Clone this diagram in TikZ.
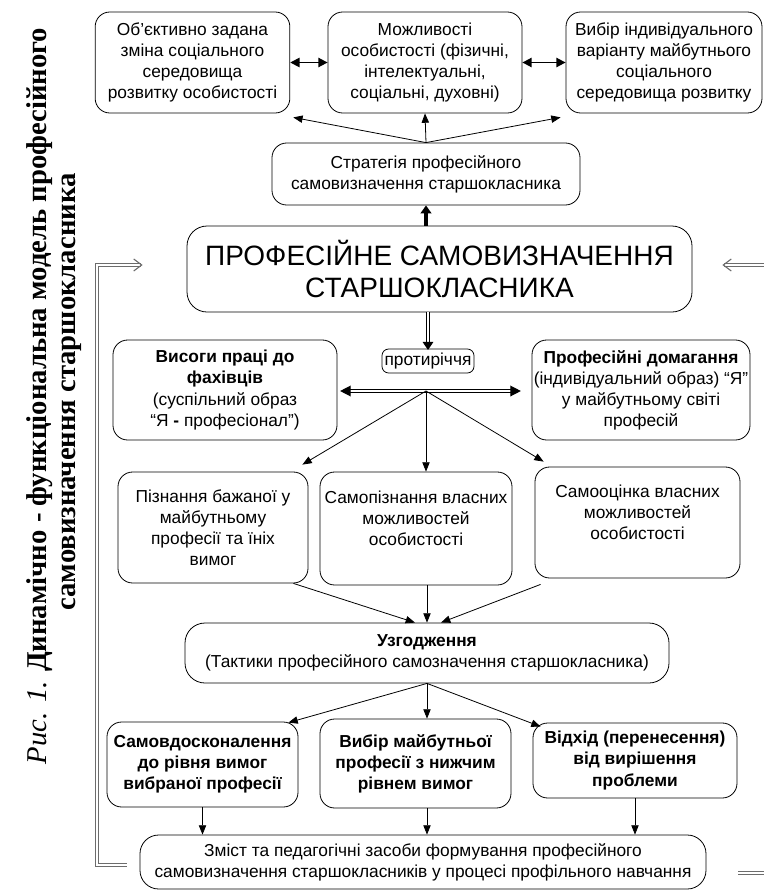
\documentclass[tikz,border=0pt]{standalone}
\usepackage{fontspec}
\setmainfont{Liberation Sans}
\newfontfamily\capfont{Liberation Serif}
\usepackage{tikz}
\usetikzlibrary{arrows.meta,calc}

\begin{document}
\begin{tikzpicture}[x=0.75pt,y=-0.75pt,
		box/.style={rectangle,draw,rounded corners=11pt,align=center,inner sep=1pt,line width=0.6pt,font=\fontsize{13}{15.8}\selectfont},
		arr/.style={line width=0.6pt,-{Triangle[length=7pt,width=5.5pt]}},
		twoway/.style={line width=1.3pt,{Triangle[length=7pt,width=7pt]}-{Triangle[length=7pt,width=7pt]}},
		heavy/.style={line width=3pt,-{Triangle[length=6pt,width=8pt]}},
		hollow/.style={draw=black,double=white,double distance=2pt,line width=0.7pt,-{Triangle[length=6pt,width=8pt]}},
		hollowtwo/.style={draw=black,double=white,double distance=1.6pt,line width=1pt,{Triangle[length=8pt,width=8pt]}-{Triangle[length=8pt,width=8pt]}},
		fb/.style={draw=gray!85!black,double=white,double distance=1.1pt,line width=0.8pt},
		fbtip/.style={-{Straight Barb[length=6pt,width=9pt]}},
		captext/.style={font=\capfont\fontsize{21.5}{25}\selectfont,inner sep=0pt}]
		
			\useasboundingbox (0,0) rectangle (764,893);
		
			\node[captext,rotate=90,anchor=base] (cap1) at (46,396) {\textit{Рис. 1.} \textbf{Динамічно - функціональна модель професійного}};
			\node[captext,rotate=90,anchor=base] (cap2) at (75,392) {\textbf{самовизначення старшокласника}};
		
			\node[box,minimum width=146pt,minimum height=75.75pt] (obj) at (192.5,62.5) {Об’єктивно задана\\зміна соціального\\середовища\\розвитку особистості};
			\node[box,minimum width=145.5pt,minimum height=75.75pt] (abil) at (425,62.5) {Можливості\\особистості (фізичні,\\інтелектуальні,\\соціальні, духовні)};
			\node[box,minimum width=147pt,minimum height=75.75pt] (choice) at (664,62.5) {Вибір індивідуального\\варіанту майбутнього\\соціального\\середовища розвитку};
			
			\node[box,minimum width=231pt,minimum height=46.5pt] (strat) at (426,174) {Стратегія професійного\\самовизначення старшокласника};
			
			\node[box,rounded corners=15pt,minimum width=378.75pt,minimum height=64.5pt,font=\fontsize{21}{24.5}\selectfont] (main) at (439.5,269) {ПРОФЕСІЙНЕ САМОВИЗНАЧЕННЯ\\СТАРШОКЛАСНИКА};
			
			\node[box,rounded corners=5pt,minimum width=69pt,minimum height=18pt] (contr) at (428,361) {протиріччя};
			\node[box,minimum width=168pt,minimum height=75pt] (demand) at (225,390) {\textbf{Висоги праці до}\\\textbf{фахівців}\\(суспільний образ\\“Я \textbf{-} професіонал”)};
			\node[box,minimum width=163.5pt,minimum height=75pt] (claim) at (641,390) {\textbf{Професійні домагання}\\(індивідуальний образ) “Я”\\у майбутньому світі\\професій};
			\coordinate (fork) at (426,391);
			
			\node[box,minimum width=142.5pt,minimum height=83.25pt] (know) at (213,527.5) {Пізнання бажаної у\\майбутньому\\професії та їніх\\вимог};
			\node[box,minimum width=144pt,minimum height=84.75pt] (selfk) at (416,528.5) {Самопізнання власних\\можливостей\\особистості\\\mbox{}};
			\node[box,minimum width=153.75pt,minimum height=83.25pt] (selfe) at (637.5,522.5) {Самооцінка власних\\можливостей\\особистості\\\mbox{}};
			
			\node[box,rounded corners=15pt,minimum width=363pt,minimum height=45pt] (agree) at (427,653) {\textbf{Узгодження}\\(Тактики професійного самозначення старшокласника)};
			
			\node[box,minimum width=143.25pt,minimum height=63.75pt,font=\bfseries\fontsize{13}{15.8}\selectfont] (impr) at (202.5,764.5) {Самовдосконалення\\до рівня вимог\\вибраної професії};
			\node[box,minimum width=143.25pt,minimum height=66.75pt,font=\bfseries\fontsize{13}{15.8}\selectfont] (lower) at (415.5,763.5) {Вибір майбутньої\\професії з нижчим\\рівнем вимог};
			\node[box,minimum width=153pt,minimum height=56.25pt,font=\bfseries\fontsize{13}{15.8}\selectfont] (avoid) at (635,760.5) {Відхід (перенесення)\\від вирішення\\проблеми};
			
			\node[box,rounded corners=14pt,minimum width=424.5pt,minimum height=40.5pt] (bottom) at (423,862) {Зміст та педагогічні засоби формування професійного\\самовизначення старшокласників у процесі профільного навчання};
			
			\coordinate (fbl) at (97,265);
			\coordinate (fbr) at (764,873);
			\coordinate (fbt) at (764,265);
			
			\path[draw,twoway] (obj.east) -- (abil.west);
			\path[draw,twoway] (abil.east) -- (choice.west);
			
			\path[draw,arr] (strat.north) -- ($(obj.south east)+(3,4)$);
			\path[draw,arr] (strat.north) -- (abil.south);
			\path[draw,arr] (strat.north) -- ($(choice.south west)+(-5,4)$);
			
			\path[draw,heavy] (strat.south |- main.north) -- (strat.south);
			\path[draw,hollow] (contr.north |- main.south) -- ([yshift=-1pt]contr.north);
			\path[draw,hollowtwo,shorten <=2pt,shorten >=8pt] (demand.east |- fork) -- (claim.west |- fork);
			
			\path[draw,arr] (fork) -- ($(know.north east)+(-6,-7)$);
			\path[draw,arr] (fork) -- (selfk.north -| fork);
			\path[draw,arr] (fork) -- ($(selfe.north west)+(9,-5)$);
			
			\path[draw,arr] ($(know.south east)+(-15,0)$) -- ($(agree.north)+(-12,0)$);
			\path[draw,arr] (selfk.south -| agree.north) -- (agree.north);
			\path[draw,arr] ($(selfe.south west)+(6,6)$) -- ($(agree.north)+(14,0)$);
			
			\path[draw,arr] (agree.south) -- ($(impr.north east)+(-10,1)$);
			\path[draw,arr] (agree.south) -- (lower.north -| agree.south);
			\path[draw,arr] (agree.south) -- ($(avoid.north west)+(8,4)$);
			
			\path[draw,arr] (impr.south) -- (impr.south |- bottom.north);
			\path[draw,arr] (lower.south -| agree.south) -- (bottom.north -| agree.south);
			\path[draw,arr] (avoid.south) -- (avoid.south |- bottom.north);
			
			\path[draw,fb,fbtip] ($(bottom.west)+(-13,3)$) -| (fbl) -- ($(main.west)+(-44,-4)$);
			\path[draw,fb] ($(bottom.east)+(32,11)$) -- (fbr);
			\path[draw,fb,fbtip] (fbt) -- ($(main.east)+(30,-4)$);
		
		\end{tikzpicture}
\end{document}
